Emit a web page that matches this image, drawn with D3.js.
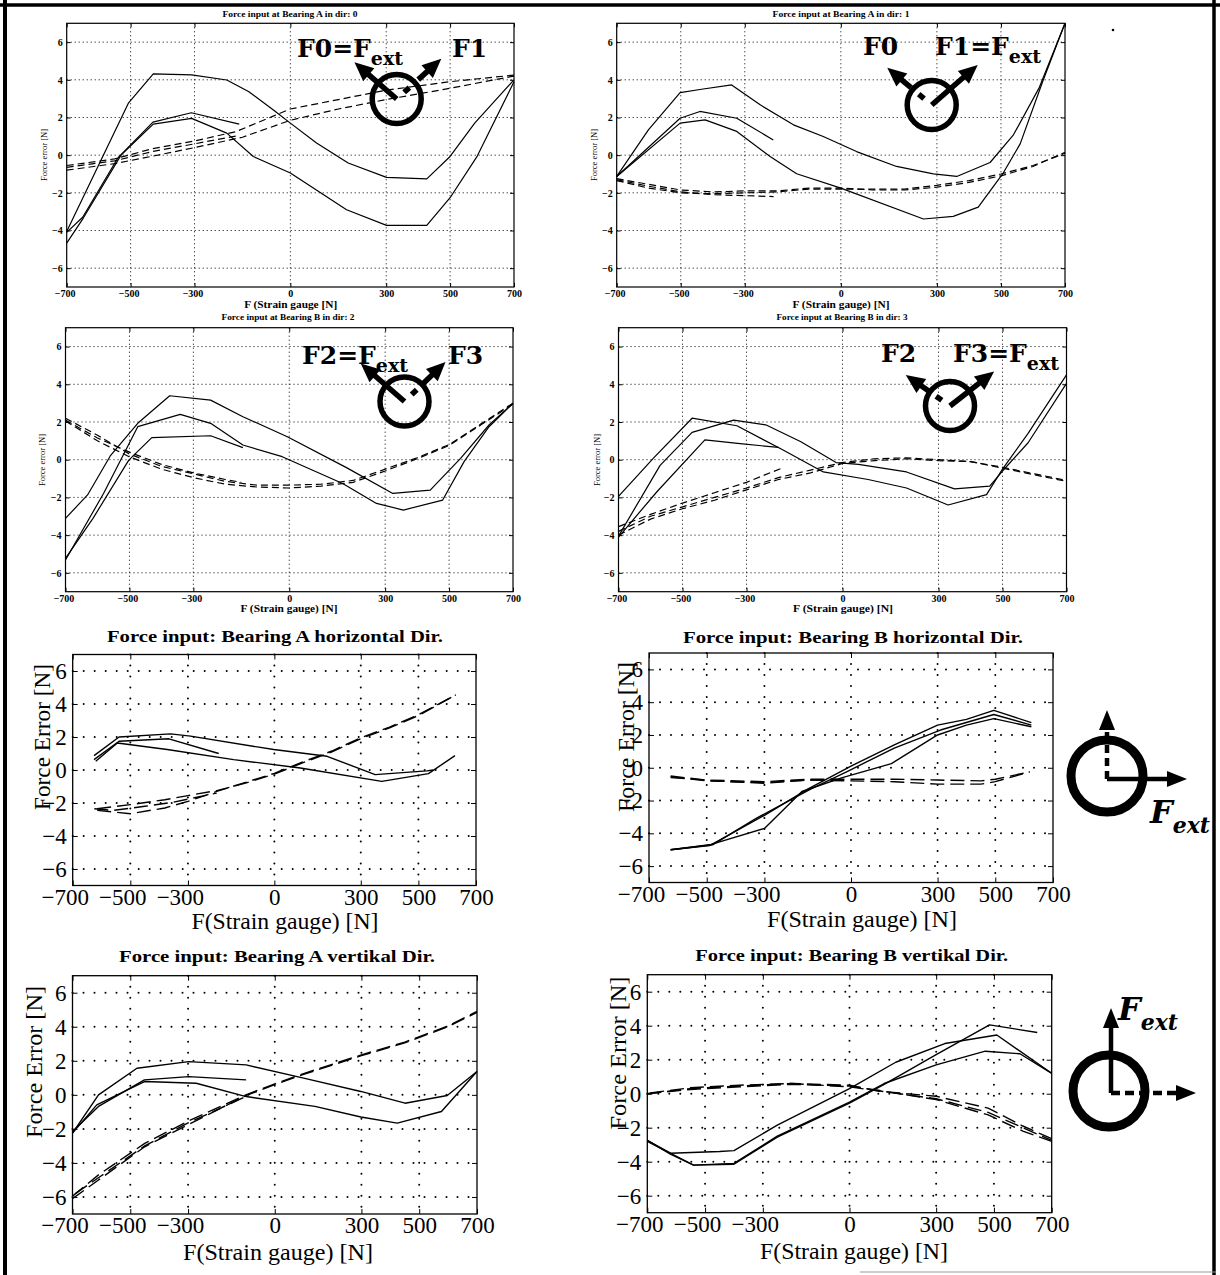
<!DOCTYPE html>
<html>
<head>
<meta charset="utf-8">
<script src="https://cdn.jsdelivr.net/npm/d3@7"></script>
<style>
  body { margin: 0; background: #fff; }
  svg { display: block; }
</style>
</head>
<body>
<svg id="fig" width="1220" height="1275"></svg>
<script>
// ---- tick values ----
const xTicks = [-700, -500, -300, 0, 300, 500, 700];
const yTicks = [-6, -4, -2, 0, 2, 4, 6];

// ---- Bearing A, dir 0 ----
const a0Solid1 = [[-700,-4.05],[-507,2.76],[-429,4.31],[-309,4.26],[-199,3.99],[-131,3.38],[-53,2.4],[0,1.7],[82,0.64],[181,-0.42],[301,-1.18],[427,-1.26],[500,-0.07],[577,1.7],[700,4.0]];
const a0Solid2 = [[-700,-4.67],[-648,-3.34],[-530,0.0],[-429,1.65],[-309,1.95],[-199,1.17],[-116,-0.07],[0,-0.95],[176,-2.9],[301,-3.73],[427,-3.73],[500,-2.26],[585,-0.05],[700,3.9]];
const a0Solid3 = [[-700,-4.1],[-650,-3.3],[-540,-0.15],[-430,1.75],[-310,2.25],[-160,1.65]];
const a0Dash1 = [[-700,-0.55],[-550,-0.2],[-430,0.35],[-300,0.75],[-170,1.25],[-50,2.1],[0,2.45],[150,2.95],[300,3.45],[500,3.9],[700,4.25]];
const a0Dash2 = [[-700,-0.8],[-550,-0.45],[-430,-0.05],[-300,0.4],[-150,0.95],[0,1.85],[150,2.45],[300,2.95],[500,3.55],[700,4.2]];
const a0Dash3 = [[-700,-0.65],[-550,-0.3],[-430,0.2],[-300,0.6],[-160,1.05]];

// ---- Bearing A, dir 1 ----
const a1Solid1 = [[-700,-1.13],[-601,1.34],[-502,3.32],[-435,3.5],[-341,3.73],[-252,2.67],[-148,1.61],[-55,0.99],[49,0.19],[174,-0.6],[289,-0.99],[362,-1.13],[466,-0.39],[539,1.08],[620,3.6],[700,7.0]];
const a1Solid2 = [[-700,-1.13],[-502,1.96],[-440,2.32],[-325,1.96],[-211,0.81]];
const a1Solid3 = [[-700,-1.13],[-502,1.7],[-424,1.87],[-325,1.26],[-221,-0.07],[-138,-0.99],[0,-1.75],[258,-3.39],[351,-3.25],[429,-2.76],[507,-0.95],[560,0.6],[630,3.9],[700,7.0]];
const a1Dash1 = [[-700,-1.25],[-600,-1.55],[-500,-1.85],[-400,-1.95],[-300,-1.9],[-200,-1.9],[-100,-1.75],[0,-1.75],[100,-1.85],[200,-1.85],[300,-1.7],[400,-1.45],[500,-1.1],[600,-0.6],[700,0.15]];
const a1Dash2 = [[-700,-1.35],[-600,-1.75],[-500,-2.0],[-400,-2.05],[-300,-2.0],[-200,-1.95],[-100,-1.8],[0,-1.8],[100,-1.8],[200,-1.8],[300,-1.6],[400,-1.35],[500,-1.0],[600,-0.55],[700,0.1]];
const a1Dash3 = [[-700,-1.3],[-600,-1.65],[-500,-1.95],[-400,-2.1],[-300,-2.15],[-210,-2.2]];

// ---- Bearing B, dir 2 ----
const b2Solid1 = [[-700,-3.11],[-631,-1.87],[-560,0.2],[-474,1.93],[-374,3.39],[-246,3.16],[-145,2.28],[-6,1.22],[179,-0.42],[324,-1.79],[441,-1.61],[536,0.07],[625,1.84],[700,2.99]];
const b2Solid2 = [[-700,-5.32],[-581,-1.79],[-474,1.75],[-341,2.4],[-246,1.93],[-145,0.78],[-22,0.16],[167,-1.26],[273,-2.32],[357,-2.67],[480,-2.14],[547,-0.1],[625,1.75],[700,2.99]];
const b2Solid3 = [[-700,-5.23],[-614,-3.11],[-502,-0.02],[-430,1.17],[-246,1.27],[-145,0.64]];
const b2Dash1 = [[-700,2.2],[-600,1.3],[-500,0.3],[-400,-0.35],[-300,-0.75],[-200,-1.15],[-100,-1.35],[0,-1.35],[100,-1.3],[200,-1.1],[300,-0.5],[400,0.1],[500,0.8],[600,1.9],[700,3.0]];
const b2Dash2 = [[-700,2.05],[-600,1.0],[-500,0.15],[-400,-0.5],[-300,-0.95],[-200,-1.3],[-100,-1.45],[0,-1.5],[100,-1.4],[200,-1.2],[300,-0.6],[400,0.05],[500,0.75],[600,1.85],[700,2.95]];
const b2Dash3 = [[-700,2.1],[-600,1.15],[-500,0.4],[-400,-0.25],[-300,-0.7],[-200,-1.05],[-150,-1.2]];

// ---- Bearing B, dir 3 ----
const b3Solid1 = [[-700,-1.95],[-590,0.1],[-470,2.2],[-330,1.8],[-190,0.55],[-60,-0.65],[80,-1.05],[200,-1.5],[330,-2.4],[450,-1.85],[500,-0.5],[580,1.4],[700,4.5]];
const b3Solid2 = [[-700,-4.05],[-570,-0.3],[-470,1.45],[-340,2.1],[-240,1.85],[-130,0.95],[-20,-0.15],[50,-0.25],[200,-0.65],[350,-1.55],[460,-1.4],[500,-0.6],[580,0.9],[700,4.05]];
const b3Solid3 = [[-700,-4.1],[-580,-1.7],[-430,1.05],[-320,0.85],[-200,0.65]];
const b3Dash1 = [[-700,-3.55],[-600,-2.9],[-500,-2.3],[-400,-1.75],[-300,-1.2],[-190,-0.45]];
const b3Dash2 = [[-700,-4.0],[-600,-3.15],[-500,-2.6],[-400,-2.15],[-300,-1.6],[-200,-1.05],[-100,-0.7],[0,-0.2],[100,-0.05],[200,0.05],[300,-0.05],[400,-0.1],[500,-0.4],[600,-0.75],[700,-1.1]];
const b3Dash3 = [[-700,-3.8],[-600,-3.0],[-500,-2.5],[-400,-2.0],[-300,-1.5],[-200,-0.95],[-100,-0.55],[0,-0.15],[100,0.05],[200,0.1],[300,0.0],[400,-0.1],[500,-0.45],[600,-0.8],[700,-1.15]];

// ---- Bearing A horizontal ----
const ahSolid1 = [[-626,0.87],[-539,2.0],[-360,2.19],[-291,2.05],[-2,1.24],[183,0.83],[350,-0.28],[529,-0.05],[552,0.0]];
const ahSolid2 = [[-626,0.63],[-539,1.74],[-366,1.89],[-193,1.0]];
const ahSolid3 = [[-620,0.53],[-545,1.64],[-372,1.24],[-141,0.63],[90,0.12],[373,-0.69],[535,-0.22],[627,0.87]];
const ahDash1 = [[-615,-2.35],[-500,-2.1],[-380,-1.8],[-300,-1.55],[-200,-1.25],[-100,-0.8],[0,-0.25],[100,0.45],[200,1.1],[300,1.9],[400,2.55],[500,3.3],[630,4.55]];
const ahDash2 = [[-615,-2.45],[-500,-2.65],[-380,-2.3],[-300,-1.9],[-200,-1.3],[-100,-0.75],[0,-0.2],[100,0.5],[200,1.15],[300,1.95],[400,2.6],[500,3.35],[630,4.55]];
const ahDash3 = [[-625,-2.35],[-560,-2.45],[-450,-2.2],[-350,-1.95],[-200,-1.4]];

// ---- Bearing B horizontal ----
const bhSolid1 = [[-625,-5.0],[-490,-4.75],[-300,-2.9],[-150,-1.3],[0,0.1],[150,1.4],[300,2.6],[400,2.95],[495,3.5],[625,2.75]];
const bhSolid2 = [[-625,-5.0],[-490,-4.7],[-300,-3.7],[-170,-1.45],[-30,-0.6],[140,0.25],[300,2.0],[400,2.6],[495,3.0],[625,2.5]];
const bhSolid3 = [[-625,-5.0],[-480,-4.7],[-330,-3.1],[-140,-1.3],[-10,-0.2],[150,1.2],[310,2.3],[495,3.25],[625,2.6]];
const bhDash1 = [[-625,-0.55],[-500,-0.8],[-300,-0.9],[-150,-0.75],[0,-0.8],[150,-0.85],[300,-1.0],[450,-1.0],[500,-0.85],[620,-0.25]];
const bhDash2 = [[-625,-0.6],[-500,-0.75],[-300,-0.85],[-150,-0.7],[0,-0.7],[150,-0.7],[300,-0.75],[450,-0.8],[500,-0.7],[620,-0.25]];
const bhDash3 = [[-625,-0.5],[-480,-0.8],[-300,-0.95],[-150,-0.75],[-50,-0.7]];

// ---- Bearing A vertikal ----
const avSolid1 = [[-700,-2.25],[-610,0.0],[-477,1.56],[-298,1.95],[-99,1.76],[100,0.98],[298,0.2],[451,-0.49],[597,-0.04],[700,1.37]];
const avSolid2 = [[-700,-2.15],[-610,-0.68],[-451,0.88],[-298,1.07],[-99,0.88]];
const avSolid3 = [[-700,-2.25],[-616,-0.59],[-451,0.78],[-272,0.68],[-99,-0.1],[139,-0.68],[298,-1.3],[424,-1.66],[577,-0.98],[700,1.37]];
const avDash1 = [[-700,-5.95],[-610,-4.7],[-450,-2.85],[-300,-1.55],[-100,0.0],[0,0.65],[100,1.25],[300,2.35],[450,3.1],[600,4.05],[700,4.9]];
const avDash2 = [[-700,-6.1],[-610,-5.0],[-450,-3.05],[-300,-1.75],[-100,-0.05],[0,0.6],[100,1.2],[300,2.3],[450,3.05],[600,4.0],[700,4.85]];
const avDash3 = [[-690,-5.8],[-600,-4.75],[-450,-3.0],[-300,-1.65],[-100,-0.1]];

// ---- Bearing B vertikal ----
const bvSolid1 = [[-700,-2.75],[-620,-3.55],[-540,-4.2],[-400,-4.15],[-250,-2.55],[0,-0.55],[120,0.55],[300,2.3],[485,4.05],[650,3.6]];
const bvSolid2 = [[-700,-2.75],[-620,-3.5],[-450,-3.4],[-400,-3.35],[-250,-1.85],[0,0.3],[160,1.85],[330,2.95],[510,3.45],[700,1.2]];
const bvSolid3 = [[-700,-2.8],[-540,-4.2],[-400,-4.1],[-250,-2.5],[0,-0.5],[120,0.6],[300,1.7],[470,2.5],[590,2.35],[700,1.2]];
const bvDash1 = [[-700,0.0],[-550,0.3],[-380,0.45],[-200,0.6],[0,0.5],[100,0.15],[300,-0.15],[480,-0.85],[600,-1.9],[700,-2.65]];
const bvDash2 = [[-700,0.0],[-550,0.25],[-380,0.4],[-200,0.55],[0,0.45],[100,0.2],[300,-0.35],[480,-1.25],[600,-2.2],[700,-2.8]];
const bvDash3 = [[-690,0.05],[-550,0.35],[-380,0.5],[-200,0.6],[0,0.4],[150,0.05],[300,-0.3],[480,-1.1],[600,-2.0],[700,-2.75]];

// ---- styles ----
const serif = '"Liberation Serif", "Times New Roman", serif';
const wide = '"DejaVu Serif", serif';

const small = { tick: 4, tickFs: 10, weight: 'bold', xPad: 3, yPad: 4, lineW: 1.2, dash: '7,4',
  gridDash: '1,3', gridW: 1, gridCap: 'butt', boxW: 1.2, negDx: '-0.2em' };
const big = { tick: 5, tickFs: 23, weight: 'normal', xPad: 3, yPad: 6, lineW: 1.4, dash: '14,6',
  gridDash: '0,11', gridW: 2, gridCap: 'round', boxW: 1.3, negDx: '-0.35em' };

const panels = [
  { s: small, x0: 66.7, x1: 514, y0: 23.3, y1: 287, solid: [a0Solid1, a0Solid2, a0Solid3], dashed: [a0Dash1, a0Dash2, a0Dash3],
    title: 'Force input at Bearing A in dir: 0', tx: 290, ty: 17, tl: 135,
    xlabel: 'F (Strain gauge [N]', lx: 290.7, ly: 307.5, ll: 93,
    ylabel: 'Force error [N]', yx: 44, yy: 155, yl: 52 },
  { s: small, x0: 616.7, x1: 1065, y0: 23.3, y1: 287, solid: [a1Solid1, a1Solid2, a1Solid3], dashed: [a1Dash1, a1Dash2, a1Dash3],
    title: 'Force input at Bearing A in dir: 1', tx: 841, ty: 17, tl: 137,
    xlabel: 'F (Strain gauge) [N]', lx: 841, ly: 307.5, ll: 97,
    ylabel: 'Force error [N]', yx: 594, yy: 155, yl: 52 },
  { s: small, x0: 65.5, x1: 513, y0: 327.7, y1: 591.7, solid: [b2Solid1, b2Solid2, b2Solid3], dashed: [b2Dash1, b2Dash2, b2Dash3],
    title: 'Force input at Bearing B in dir: 2', tx: 288, ty: 320, tl: 133,
    xlabel: 'F (Strain gauge) [N]', lx: 289, ly: 611.5, ll: 97,
    ylabel: 'Force error [N]', yx: 42, yy: 460, yl: 52 },
  { s: small, x0: 618.5, x1: 1066.5, y0: 327.7, y1: 591.7, solid: [b3Solid1, b3Solid2, b3Solid3], dashed: [b3Dash1, b3Dash2, b3Dash3],
    title: 'Force input at Bearing B in dir: 3', tx: 842, ty: 320, tl: 131,
    xlabel: 'F (Strain gauge) [N]', lx: 843, ly: 611.5, ll: 100,
    ylabel: 'Force error [N]', yx: 597, yy: 460, yl: 52 },
  { s: big, x0: 72.7, x1: 476, y0: 654.5, y1: 885.5, solid: [ahSolid1, ahSolid2, ahSolid3], dashed: [ahDash1, ahDash2, ahDash3],
    title: 'Force input: Bearing A horizontal Dir.', tx: 275, ty: 642, tl: 336,
    xlabel: 'F(Strain gauge) [N]', lx: 285, ly: 929, ll: 187,
    ylabel: 'Force Error [N]', yx: 42, yy: 737, yl: 146 },
  { s: big, x0: 649, x1: 1053, y0: 653, y1: 882.5, solid: [bhSolid1, bhSolid2, bhSolid3], dashed: [bhDash1, bhDash2, bhDash3],
    title: 'Force input: Bearing B horizontal Dir.', tx: 853, ty: 643, tl: 340,
    xlabel: 'F(Strain gauge) [N]', lx: 862, ly: 927, ll: 190,
    ylabel: 'Force Error [N]', yx: 626, yy: 737, yl: 150 },
  { s: big, x0: 72.5, x1: 477, y0: 975.7, y1: 1214, solid: [avSolid1, avSolid2, avSolid3], dashed: [avDash1, avDash2, avDash3],
    title: 'Force input: Bearing A vertikal Dir.', tx: 277, ty: 962, tl: 316,
    xlabel: 'F(Strain gauge) [N]', lx: 278, ly: 1260, ll: 190,
    ylabel: 'Force Error [N]', yx: 34, yy: 1062, yl: 152 },
  { s: big, x0: 647.3, x1: 1051.7, y0: 974.7, y1: 1212.7, solid: [bvSolid1, bvSolid2, bvSolid3], dashed: [bvDash1, bvDash2, bvDash3],
    title: 'Force input: Bearing B vertikal Dir.', tx: 851.7, ty: 961, tl: 313,
    xlabel: 'F(Strain gauge) [N]', lx: 854, ly: 1259, ll: 188,
    ylabel: 'Force Error [N]', yx: 618, yy: 1053, yl: 153 }
];

const svg = d3.select('#fig');
svg.append('rect').attr('width', 1220).attr('height', 1275).attr('fill', '#fff');

const fmt = d => d < 0 ? '\u2212' + Math.abs(d) : String(d);

function styleAxis(sel, s) {
  sel.select('.domain').remove();
  sel.attr('font-family', serif).attr('font-size', s.tickFs).attr('font-weight', s.weight);
  sel.selectAll('line').attr('stroke', '#000').attr('stroke-width', 1);
  sel.selectAll('text').attr('fill', '#000');
}

function drawPanel(p) {
  const s = p.s;
  const x = d3.scaleLinear().domain([-700, 700]).range([p.x0, p.x1]);
  const y = d3.scaleLinear().domain([-7, 7]).range([p.y1, p.y0]);
  const g = svg.append('g');

  // dotted grid
  const grid = g.append('g').attr('stroke', '#000').attr('stroke-width', s.gridW)
    .attr('stroke-dasharray', s.gridDash).attr('stroke-linecap', s.gridCap);
  grid.selectAll('.gx').data(xTicks.slice(1, -1)).join('line').attr('class', 'gx')
    .attr('x1', d => x(d)).attr('x2', d => x(d)).attr('y1', p.y0).attr('y2', p.y1);
  grid.selectAll('.gy').data(yTicks).join('line').attr('class', 'gy')
    .attr('x1', p.x0).attr('x2', p.x1).attr('y1', d => y(d)).attr('y2', d => y(d));

  // axes with inward ticks
  const ab = g.append('g').attr('transform', `translate(0,${p.y1})`)
    .call(d3.axisBottom(x).tickValues(xTicks).tickSize(-s.tick).tickSizeOuter(0).tickPadding(s.xPad).tickFormat(fmt));
  styleAxis(ab, s);
  ab.selectAll('text').filter(d => d < 0).attr('dx', s.negDx);
  const al = g.append('g').attr('transform', `translate(${p.x0},0)`)
    .call(d3.axisLeft(y).tickValues(yTicks).tickSize(-s.tick).tickSizeOuter(0).tickPadding(s.yPad).tickFormat(fmt));
  styleAxis(al, s);
  const at = g.append('g').attr('transform', `translate(0,${p.y0})`)
    .call(d3.axisTop(x).tickValues(xTicks).tickSize(-s.tick).tickSizeOuter(0).tickFormat(''));
  styleAxis(at, s);
  const ar = g.append('g').attr('transform', `translate(${p.x1},0)`)
    .call(d3.axisRight(y).tickValues(yTicks).tickSize(-s.tick).tickSizeOuter(0).tickFormat(''));
  styleAxis(ar, s);

  g.append('rect').attr('x', p.x0).attr('y', p.y0).attr('width', p.x1 - p.x0).attr('height', p.y1 - p.y0)
    .attr('fill', 'none').attr('stroke', '#000').attr('stroke-width', s.boxW);

  const line = d3.line().x(d => x(d[0])).y(d => y(d[1]));
  p.solid.forEach(ser => g.append('path').datum(ser).attr('d', line).attr('fill', 'none')
    .attr('stroke', '#000').attr('stroke-width', s.lineW).attr('stroke-linejoin', 'round'));
  p.dashed.forEach(ser => g.append('path').datum(ser).attr('d', line).attr('fill', 'none')
    .attr('stroke', '#000').attr('stroke-width', s.lineW).attr('stroke-dasharray', s.dash));

  // texts
  const isBig = s === big;
  g.append('text').attr('x', p.tx).attr('y', p.ty).attr('text-anchor', 'middle')
    .attr('font-family', serif).attr('font-weight', 'bold')
    .attr('font-size', isBig ? 16 : 8.5).attr('textLength', p.tl).attr('lengthAdjust', 'spacingAndGlyphs')
    .text(p.title);
  g.append('text').attr('x', p.lx).attr('y', p.ly).attr('text-anchor', 'middle')
    .attr('font-family', serif).attr('font-weight', isBig ? 'normal' : 'bold')
    .attr('font-size', isBig ? 23 : 10.5).attr('textLength', p.ll).attr('lengthAdjust', 'spacingAndGlyphs')
    .text(p.xlabel);
  g.append('text').attr('transform', `translate(${p.yx},${p.yy}) rotate(-90)`)
    .attr('text-anchor', 'middle').attr('dy', '0.35em')
    .attr('font-family', serif).attr('font-size', isBig ? 23 : 8.5)
    .attr('textLength', p.yl).attr('lengthAdjust', 'spacingAndGlyphs')
    .text(p.ylabel);
}

panels.forEach(drawPanel);

// ---- direction sketches ----
function arrow(g, cx, cy, ang, len, o) {
  const a = ang * Math.PI / 180, ux = Math.cos(a), uy = -Math.sin(a);
  const px = -uy, py = ux;
  const P = (d, w = 0) => [cx + ux * d + px * w, cy + uy * d + py * w];
  const hb = len - o.headLen;
  if (o.mode === 'solid') {
    const [x1, y1] = P(o.start || 0), [x2, y2] = P(hb + 1);
    g.append('line').attr('x1', x1).attr('y1', y1).attr('x2', x2).attr('y2', y2)
      .attr('stroke', '#000').attr('stroke-width', o.w);
  } else if (o.mode === 'dashLong') {
    const [x1, y1] = P(0), [x2, y2] = P(hb);
    g.append('line').attr('x1', x1).attr('y1', y1).attr('x2', x2).attr('y2', y2)
      .attr('stroke', '#000').attr('stroke-width', o.w).attr('stroke-dasharray', o.dash);
  } else {
    // small square near the centre plus a short stub under the head
    [[10, 17], [hb - 12, hb + 1]].forEach(([d1, d2]) => {
      const [x1, y1] = P(d1), [x2, y2] = P(d2);
      g.append('line').attr('x1', x1).attr('y1', y1).attr('x2', x2).attr('y2', y2)
        .attr('stroke', '#000').attr('stroke-width', o.w);
    });
  }
  g.append('polygon').attr('points', [P(len), P(hb, o.headW), P(hb, -o.headW)].map(q => q.join(',')).join(' '))
    .attr('fill', '#000');
}

function labelF(g, x, y, main, sub, fs, subFs, italic) {
  const t = g.append('text').attr('x', x).attr('y', y).attr('font-family', wide).attr('font-weight', 'bold')
    .attr('font-style', italic ? 'italic' : 'normal').attr('font-size', fs);
  t.append('tspan').text(main);
  if (sub) t.append('tspan').attr('font-size', subFs).attr('dy', fs * 0.3).text(sub);
}

const ico = svg.append('g');
const topHead = { headLen: 19, headW: 8.5, w: 5.5 };
// panel A dir 0
ico.append('circle').attr('cx', 396.7).attr('cy', 99).attr('r', 24.5).attr('fill', 'none').attr('stroke', '#000').attr('stroke-width', 5.5);
arrow(ico, 396.7, 99, 139, 56, { ...topHead, mode: 'solid' });
arrow(ico, 396.7, 99, 42, 60, { ...topHead, mode: 'stub' });
labelF(ico, 297, 57, 'F0=F', 'ext', 25, 19);
labelF(ico, 452, 57, 'F1', null, 25);
// panel A dir 1
ico.append('circle').attr('cx', 931.7).attr('cy', 105).attr('r', 24.5).attr('fill', 'none').attr('stroke', '#000').attr('stroke-width', 5.5);
arrow(ico, 931.7, 105, 41, 61, { ...topHead, mode: 'solid' });
arrow(ico, 931.7, 105, 140, 58, { ...topHead, mode: 'stub' });
labelF(ico, 863, 55, 'F0', null, 25);
labelF(ico, 935, 55, 'F1=F', 'ext', 25, 19);
// panel B dir 2
ico.append('circle').attr('cx', 404.5).attr('cy', 401.5).attr('r', 24.5).attr('fill', 'none').attr('stroke', '#000').attr('stroke-width', 5.5);
arrow(ico, 404.5, 401.5, 139, 58, { ...topHead, mode: 'solid' });
arrow(ico, 404.5, 401.5, 44, 57, { ...topHead, mode: 'stub' });
labelF(ico, 302, 364, 'F2=F', 'ext', 25, 19);
labelF(ico, 448, 364, 'F3', null, 25);
// panel B dir 3
ico.append('circle').attr('cx', 950).attr('cy', 406).attr('r', 24.5).attr('fill', 'none').attr('stroke', '#000').attr('stroke-width', 5.5);
arrow(ico, 950, 406, 38, 56, { ...topHead, mode: 'solid' });
arrow(ico, 950, 406, 145, 54, { ...topHead, mode: 'stub' });
labelF(ico, 881, 362, 'F2', null, 25);
labelF(ico, 953, 362, 'F3=F', 'ext', 25, 19);

// big sketches on the right
const bigHead = { headLen: 20, headW: 8, w: 4.5 };
ico.append('circle').attr('cx', 1107).attr('cy', 776).attr('r', 36).attr('fill', 'none').attr('stroke', '#000').attr('stroke-width', 9);
arrow(ico, 1107, 779, 0, 80, { ...bigHead, mode: 'solid' });
arrow(ico, 1107, 779, 90, 69, { ...bigHead, mode: 'dashLong', dash: '8,5' });
labelF(ico, 1150, 823, 'F', 'ext', 32, 22, true);

ico.append('circle').attr('cx', 1109).attr('cy', 1091).attr('r', 36).attr('fill', 'none').attr('stroke', '#000').attr('stroke-width', 9);
arrow(ico, 1111, 1093, 90, 85, { ...bigHead, mode: 'solid' });
arrow(ico, 1111, 1093, 0, 85, { ...bigHead, mode: 'dashLong', dash: '9,5' });
labelF(ico, 1118, 1020, 'F', 'ext', 32, 22, true);

// stray mark and page frame
svg.append('circle').attr('cx', 1113).attr('cy', 30).attr('r', 1.3).attr('fill', '#000');
const fr = svg.append('g').attr('stroke', '#000');
fr.append('line').attr('x1', 5).attr('y1', 0).attr('x2', 5).attr('y2', 1275).attr('stroke-width', 4);
fr.append('line').attr('x1', 0).attr('y1', 5).attr('x2', 1220).attr('y2', 5).attr('stroke-width', 3.5);
fr.append('line').attr('x1', 1214).attr('y1', 0).attr('x2', 1214).attr('y2', 1275).attr('stroke-width', 3.5);
fr.append('line').attr('x1', 860).attr('y1', 1272).attr('x2', 1216).attr('y2', 1272).attr('stroke-width', 1).attr('stroke', '#999');
</script>
</body>
</html>
